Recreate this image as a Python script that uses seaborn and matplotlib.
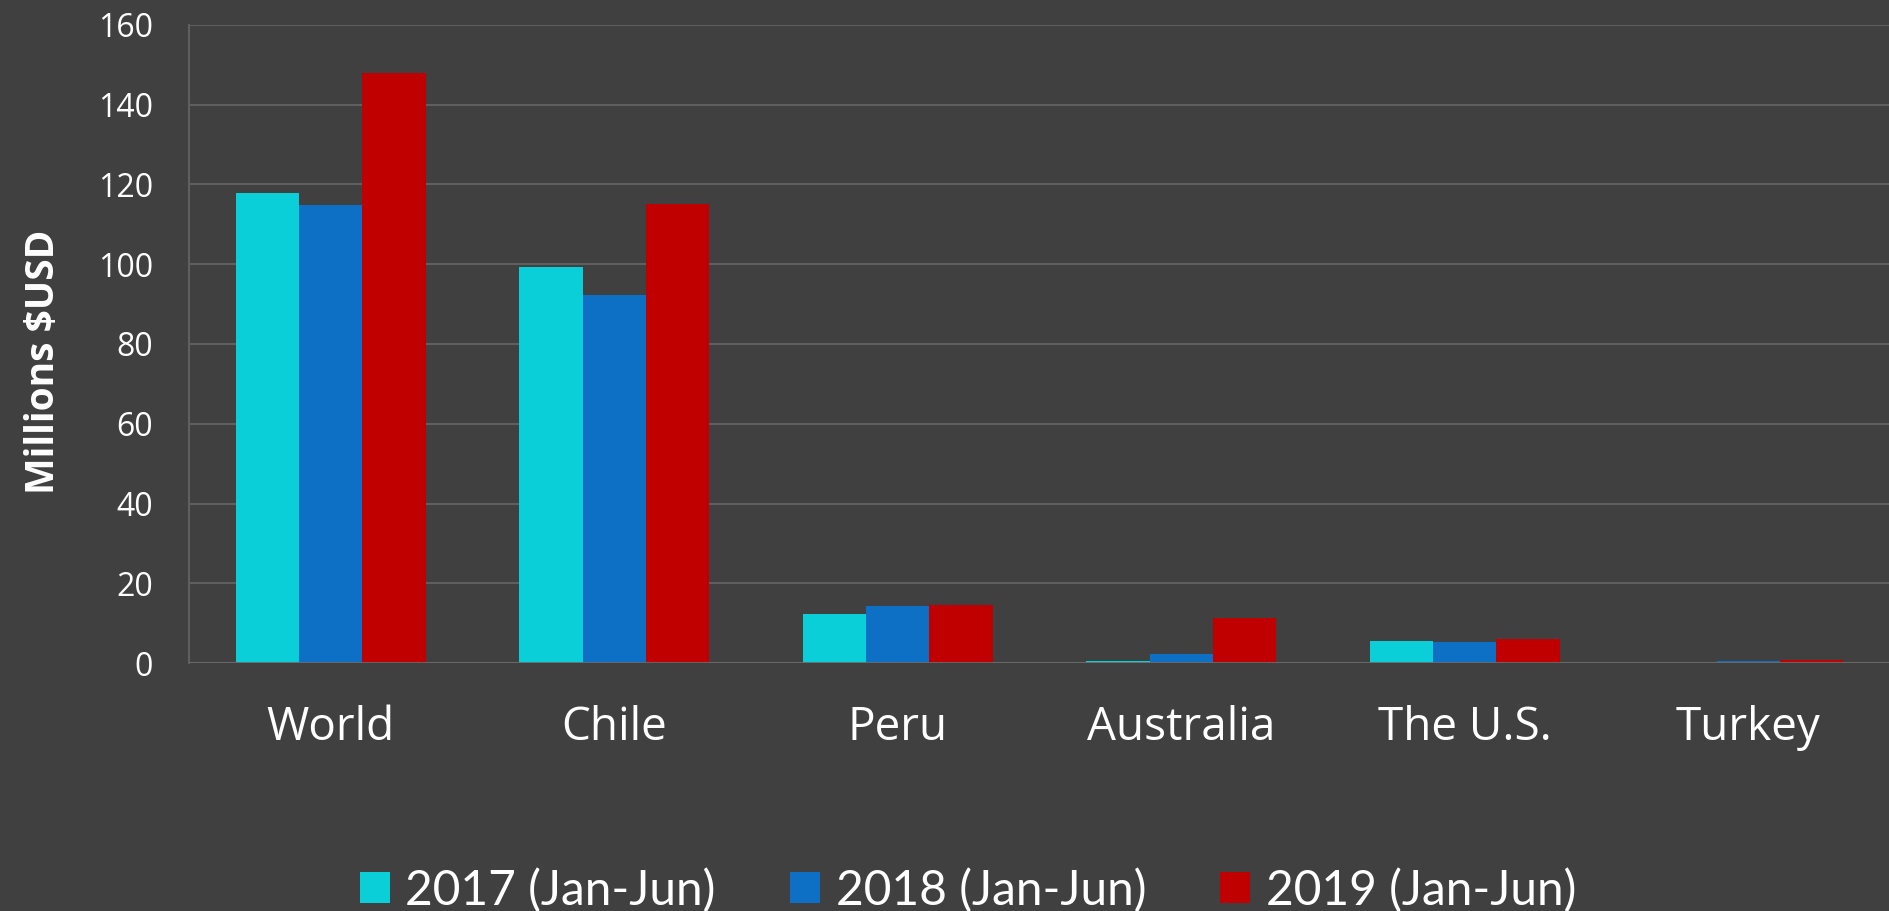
import matplotlib
matplotlib.use("Agg")

import matplotlib.pyplot as plt
import seaborn as sns
import pandas as pd
from matplotlib.patches import Patch

countries = ["World", "Chile", "Peru", "Australia", "The U.S.", "Turkey"]
periods = ["2017 (Jan-Jun)", "2018 (Jan-Jun)", "2019 (Jan-Jun)"]
v2017 = [117.8, 99.2, 12.4, 0.4, 5.4, 0.0]
v2018 = [114.8, 92.2, 14.2, 2.2, 5.3, 0.5]
v2019 = [148.0, 115.0, 14.5, 11.3, 6.0, 0.7]
colors = ["#0BCFD8", "#0E70C5", "#C00000"]
yticks = [0, 20, 40, 60, 80, 100, 120, 140, 160]

BG = "#404040"
GRID = "#5f5f5f"

df = pd.DataFrame({
    "country": countries * 3,
    "period": [periods[0]] * 6 + [periods[1]] * 6 + [periods[2]] * 6,
    "value": v2017 + v2018 + v2019,
})

sns.set_theme(style="dark")
plt.rcParams["font.family"] = ["Open Sans", "DejaVu Sans"]

fig = plt.figure(figsize=(18.9, 9.11), dpi=100, facecolor=BG)
ax = fig.add_axes([0.1, 0.2722, 0.9, 0.7004])
ax.set_facecolor(BG)

sns.barplot(data=df, x="country", y="value", hue="period", order=countries,
            hue_order=periods, palette=colors, width=0.67, linewidth=0,
            saturation=1, ax=ax, legend=False)

ax.set_xlim(-0.5, 5.5)
ax.set_ylim(0, 160)
ax.set_yticks(yticks)
ax.set_axisbelow(True)
ax.yaxis.grid(True, color=GRID, linewidth=1.5)
ax.xaxis.grid(False)
for s in ["top", "right", "bottom"]:
    ax.spines[s].set_visible(False)
ax.spines["left"].set_color(GRID)
ax.spines["left"].set_linewidth(1.5)
ax.axhline(0, color="#6a6a6a", linewidth=2, zorder=5)

ax.tick_params(axis="y", length=0, pad=26, labelsize=23, labelcolor="white")
ax.tick_params(axis="x", length=0, pad=30, labelsize=33, labelcolor="white")
ax.set_xlabel("")
ax.set_ylabel("")

fig.text(44 / 1890, 0.603, "Millions $USD", rotation=90, ha="center", va="center",
         fontsize=28, fontweight="bold", color="white")

handles = [Patch(facecolor=c, edgecolor="none") for c in colors]
fig.legend(handles, periods, loc="center", bbox_to_anchor=(968 / 1890, 1 - 890 / 911),
           ncol=3, frameon=False, labelcolor="white",
           handlelength=0.62, handleheight=0.62, handletextpad=0.33,
           columnspacing=1.55, prop={"family": ["Lato", "DejaVu Sans"], "size": 34.5})

fig.savefig("out.png", dpi=100, facecolor=BG)
